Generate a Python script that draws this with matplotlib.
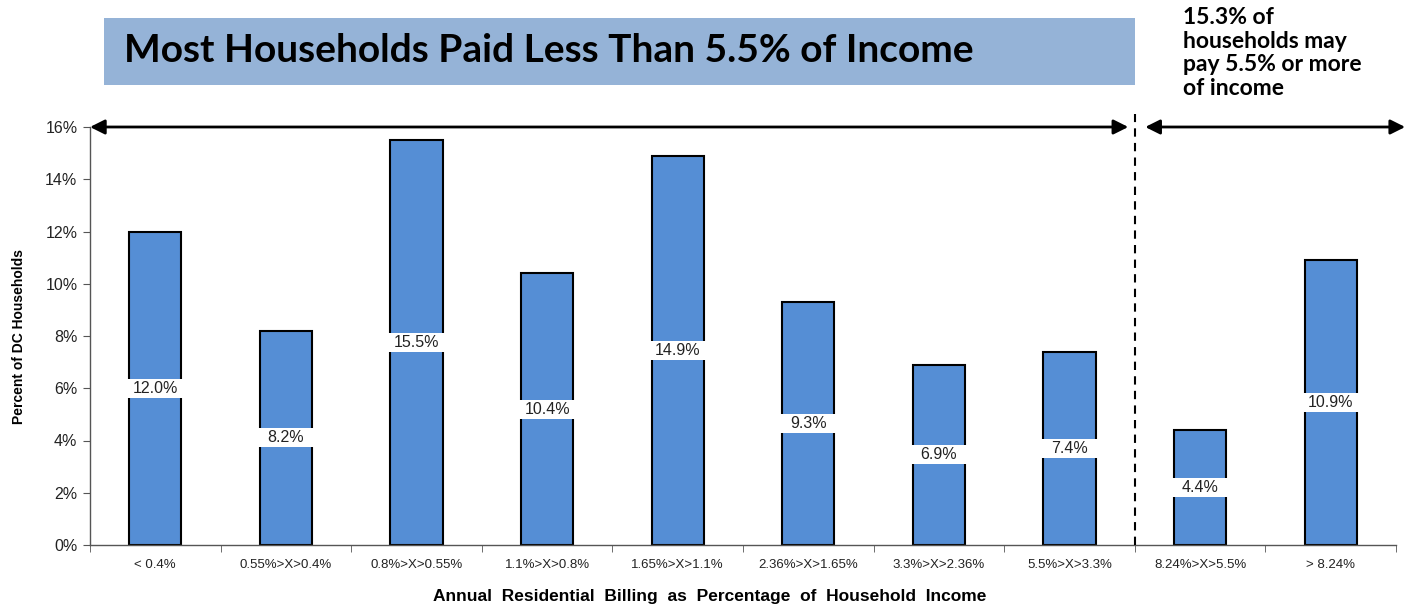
import matplotlib
matplotlib.use("Agg")
import matplotlib.pyplot as plt
from matplotlib.patches import Rectangle
from matplotlib.ticker import FixedLocator, NullFormatter

categories = ["< 0.4%", "0.55%>X>0.4%", "0.8%>X>0.55%", "1.1%>X>0.8%", "1.65%>X>1.1%",
              "2.36%>X>1.65%", "3.3%>X>2.36%", "5.5%>X>3.3%", "8.24%>X>5.5%", "> 8.24%"]
values = [12.0, 8.2, 15.5, 10.4, 14.9, 9.3, 6.9, 7.4, 4.4, 10.9]
yticks = [0, 2, 4, 6, 8, 10, 12, 14, 16]
title = "Most Households Paid Less Than 5.5% of Income"
side_note = "15.3% of\nhouseholds may\npay 5.5% or more\nof income"
xlabel = "Annual  Residential  Billing  as  Percentage  of  Household  Income"
ylabel = "Percent of DC Households"

plt.rcParams['font.family'] = ['Liberation Sans', 'DejaVu Sans']

fig = plt.figure(figsize=(14.06, 6.06), dpi=100)
ax = fig.add_axes([90/1406, 1-545/606, 1306/1406, (545-127)/606])

x = list(range(len(values)))
ax.bar(x, values, width=0.4, color="#558ED5", edgecolor="black", linewidth=1.5, zorder=2)
for xi, v in zip(x, values):
    ax.add_patch(Rectangle((xi-0.215, v/2-0.36), 0.43, 0.72, facecolor="white", edgecolor="none", zorder=3))
    ax.text(xi, v/2, f"{v:.1f}%", ha="center", va="center", fontsize=11.5, color="#222222", zorder=4)

ax.set_xlim(-0.5, len(values)-0.5)
ax.set_ylim(0, 16)
ax.set_yticks(yticks)
ax.set_yticklabels([f"{t}%" for t in yticks], fontsize=11.5, color="#222222")
ax.set_xticks(x)
ax.set_xticklabels(categories, fontsize=9.5, color="#222222")
ax.tick_params(axis="x", which="major", length=0, pad=10)
ax.xaxis.set_minor_locator(FixedLocator([i+0.5 for i in range(-1, len(values))]))
ax.xaxis.set_minor_formatter(NullFormatter())
ax.tick_params(axis="x", which="minor", length=5, color="#555555")
ax.tick_params(axis="y", length=5, color="#555555", pad=4)
for s in ["top", "right"]:
    ax.spines[s].set_visible(False)
for s in ["left", "bottom"]:
    ax.spines[s].set_color("#555555")
    ax.spines[s].set_linewidth(1.0)

ax.set_ylabel(ylabel, fontsize=10, fontweight="bold", labelpad=14)
fig.text(710/1406, 1-597/606, xlabel, fontsize=12.5, fontweight="bold", ha="center", va="center")

# dashed separator
ax.plot([7.5, 7.5], [0, 16.5], color="black", linestyle=(0, (4, 3)), linewidth=1.5, clip_on=False, zorder=4)

# arrows
ax.annotate("", xy=(-0.5, 16), xytext=(7.45, 16), xycoords="data",
            arrowprops=dict(arrowstyle="<|-|>", color="black", lw=2, mutation_scale=22, shrinkA=0, shrinkB=0),
            annotation_clip=False)
ax.annotate("", xy=(7.58, 16), xytext=(9.57, 16), xycoords="data",
            arrowprops=dict(arrowstyle="<|-|>", color="black", lw=2, mutation_scale=22, shrinkA=0, shrinkB=0),
            annotation_clip=False)

# title box
fig.patches.append(Rectangle((104/1406, 1-85/606), (1135-104)/1406, 67/606, transform=fig.transFigure,
                             facecolor="#95B3D7", edgecolor="none"))
fig.text(124/1406, 1-51/606, title, fontsize=28, fontweight="bold", family="Lato", va="center", ha="left")
fig.text(1183/1406, 1-7/606, side_note, fontsize=16.5, fontweight="bold", family="Lato", va="top", ha="left",
         linespacing=1.15)

fig.savefig("out.png", dpi=100)
